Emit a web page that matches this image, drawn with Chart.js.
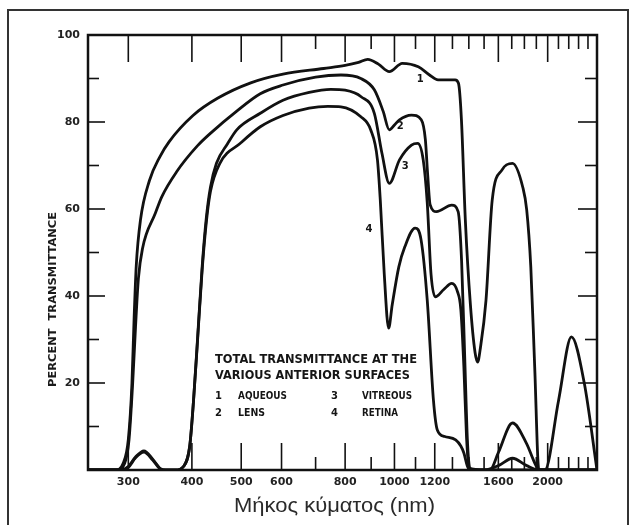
<!DOCTYPE html>
<html>
<head>
<meta charset="utf-8">
<script src="https://cdn.jsdelivr.net/npm/chart.js@4.4.1/dist/chart.umd.min.js"></script>
<style>
  html, body { margin: 0; padding: 0; background: #fff; }
</style>
</head>
<body>
<canvas id="chart" width="633" height="525"></canvas>
<script>
// values: wavelength (nm) and percent transmittance
const aqueousNm  = [250, 283, 293, 300, 305, 308, 311, 317, 330, 346, 361, 402, 450, 522, 604, 726, 800, 850, 886, 930, 977, 1036, 1114, 1172, 1218, 1316, 1336, 1354, 1378, 1410, 1440, 1457, 1475, 1513, 1556, 1627, 1706, 1787, 1819, 1853, 1886, 1922, 1975, 2101, 2227, 2360, 2500];
const aqueousPct = [0, 0, 1.5, 7, 20, 35, 47, 57.5, 66.5, 72, 75.5, 81.5, 85.5, 89, 91, 92.3, 93, 93.7, 94.4, 93.3, 91.6, 93.5, 92.7, 90.8, 89.7, 89.7, 88.9, 80.5, 57.5, 38, 27, 24.8, 28, 39, 62, 69, 70.5, 65, 59.8, 46.7, 23.7, 0, 0, 16, 30.6, 20, 0];

const lensNm  = [250, 285, 295, 301, 306, 310, 314, 320, 339, 349, 373, 410, 436, 490, 545, 604, 700, 785, 859, 913, 950, 977, 1000, 1023, 1080, 1129, 1150, 1162, 1175, 1209, 1296, 1334, 1355, 1375, 1392, 1410, 1540, 1600, 1706, 1819, 1880, 1922, 2500];
const lensPct = [0, 0, 1.5, 7, 20, 33, 44, 51, 59, 62.8, 68.5, 74.5, 77.5, 82.5, 86.5, 88.5, 90.3, 90.8, 90, 87.4, 82.5, 78.2, 79.3, 80.5, 81.6, 80.5, 76, 68, 61, 59.4, 60.9, 59.4, 48, 25, 6, 0, 0, 4, 10.8, 6, 2, 0, 0];

const vitreousNm  = [250, 290, 300, 310, 322, 335, 347, 355, 372, 385, 396, 403, 411, 419, 427, 435, 447, 470, 490, 545, 604, 680, 750, 800, 860, 913, 945, 977, 1023, 1080, 1111, 1139, 1160, 1180, 1203, 1250, 1296, 1330, 1350, 1369, 1385, 1400, 1500, 1600, 1706, 1819, 1922, 2500];
const vitreousPct = [0, 0, 0.8, 3, 4.4, 2.5, 0.3, 0, 0, 0.8, 5.4, 16, 31.5, 46.7, 58, 65, 70.5, 75, 78.2, 82, 85, 86.8, 87.5, 87.3, 85.8, 82, 72.8, 65.9, 71.3, 74.7, 75.1, 71.3, 61.4, 45, 39.8, 41.5, 42.9, 41, 37, 23.7, 8, 0.5, 0, 1, 2.7, 1, 0, 0];

const retinaNm  = [250, 290, 300, 310, 322, 335, 347, 355, 372, 385, 396, 403, 411, 419, 427, 435, 454, 498, 545, 604, 680, 740, 785, 859, 898, 926, 938, 955, 974, 990, 1020, 1048, 1098, 1128, 1160, 1193, 1214, 1255, 1319, 1350, 1369, 1390, 1406, 2500];
const retinaPct = [0, 0, 0.6, 2.8, 4.1, 2.3, 0.2, 0, 0, 0.8, 5.4, 16, 31, 46, 57, 64, 70.5, 75.1, 78.9, 81.5, 83.2, 83.6, 83.5, 81.2, 78.2, 71.3, 62, 45, 32.6, 38, 46.7, 51.3, 55.6, 52.9, 39, 16, 9.2, 7.7, 6.9, 5.5, 3.9, 1, 0, 0];

// axis ticks
const xTickValues  = [300, 400, 500, 600, 800, 1000, 1200, 1600, 2000];
const xMinorTicks  = [700, 900, 1100, 1300, 1400, 1500, 1700, 1800, 1900, 2100, 2200, 2300, 2400];
const yMajorTicks  = [20, 40, 60, 80];
const yMinorTicks  = [10, 30, 50, 70, 90];

// curve numbers, placed in data units
const curveLabels   = ['1', '2', '3', '4'];
const curveLabelNm  = [1124, 1026, 1050, 891];
const curveLabelPct = [89.9, 78.9, 69.7, 55.2];

const legendTitle  = ['TOTAL TRANSMITTANCE AT THE', 'VARIOUS ANTERIOR SURFACES'];
const surfaceNames = ['AQUEOUS', 'LENS', 'VITREOUS', 'RETINA'];

const xTitle = 'Μήκος κύματος (nm)';
const yTitle = 'PERCENT  TRANSMITTANCE';

function toPoints(xs, ys) {
    return xs.map((x, i) => ({ x: x, y: ys[i] }));
}

function curve(label, xs, ys) {
    return {
        label: label,
        data: toPoints(xs, ys),
        borderColor: '#111',
        borderWidth: 2.8,
        pointRadius: 0,
        fill: false,
        cubicInterpolationMode: 'monotone'
    };
}

// draw text squeezed/stretched to a given width
function fitText(ctx, text, x, y, width, font) {
    ctx.font = font;
    const w = ctx.measureText(text).width;
    ctx.save();
    ctx.translate(x, y);
    ctx.scale(width / w, 1);
    ctx.fillText(text, 0, 0);
    ctx.restore();
}

const paperPlugin = {
    id: 'paper',
    beforeDraw(chart) {
        const ctx = chart.ctx;
        ctx.save();
        ctx.fillStyle = '#fff';
        ctx.fillRect(0, 0, chart.width, chart.height);
        ctx.strokeStyle = '#333';
        ctx.lineWidth = 2;
        ctx.strokeRect(8, 10, 620, 530);
        ctx.restore();
    },
    afterDatasetsDraw(chart) {
        const { ctx, chartArea: a, scales: { x, y } } = chart;
        ctx.save();
        ctx.strokeStyle = '#111';
        ctx.lineWidth = 2.5;
        ctx.strokeRect(a.left, a.top, a.right - a.left, a.bottom - a.top);

        const line = (x1, y1, x2, y2) => {
            ctx.beginPath();
            ctx.moveTo(x1, y1);
            ctx.lineTo(x2, y2);
            ctx.stroke();
        };
        ctx.lineWidth = 1.6;
        xTickValues.forEach(v => {
            const px = x.getPixelForValue(v);
            line(px, a.bottom, px, a.bottom - 27);
            line(px, a.top, px, a.top + 27);
        });
        xMinorTicks.forEach(v => {
            const px = x.getPixelForValue(v);
            line(px, a.bottom, px, a.bottom - 13);
            line(px, a.top, px, a.top + 14);
        });
        yMajorTicks.forEach(v => {
            const py = y.getPixelForValue(v);
            line(a.left, py, a.left + 17, py);
            line(a.right, py, a.right - 19, py);
        });
        yMinorTicks.forEach(v => {
            const py = y.getPixelForValue(v);
            line(a.left, py, a.left + 11, py);
            line(a.right, py, a.right - 12, py);
        });

        ctx.fillStyle = '#151515';
        ctx.textBaseline = 'middle';

        // curve numbers
        ctx.font = "bold 10px 'DejaVu Sans'";
        ctx.textAlign = 'center';
        curveLabels.forEach((t, i) => {
            ctx.fillText(t, x.getPixelForValue(curveLabelNm[i]), y.getPixelForValue(curveLabelPct[i]));
        });

        // legend block
        ctx.textAlign = 'left';
        const lx = a.left + 127;
        fitText(ctx, legendTitle[0], lx, 360, 202, "bold 12px 'DejaVu Sans'");
        fitText(ctx, legendTitle[1], lx, 376, 195, "bold 12px 'DejaVu Sans'");
        const f = "bold 10px 'DejaVu Sans'";
        ctx.font = f;
        ctx.fillText('1', lx, 396);
        ctx.fillText('2', lx, 413);
        ctx.fillText('3', lx + 116, 396);
        ctx.fillText('4', lx + 116, 413);
        fitText(ctx, surfaceNames[0], lx + 23, 396, 49, f);
        fitText(ctx, surfaceNames[1], lx + 23, 413, 27, f);
        fitText(ctx, surfaceNames[2], lx + 147, 396, 50, f);
        fitText(ctx, surfaceNames[3], lx + 147, 413, 36, f);

        // axis titles
        ctx.fillStyle = '#2a2a2a';
        fitText(ctx, xTitle, 234, 506, 201, "20px 'Liberation Sans'");

        ctx.fillStyle = '#1a1a1a';
        ctx.save();
        ctx.translate(53, 387);
        ctx.rotate(-Math.PI / 2);
        fitText(ctx, yTitle, 0, 0, 175, "bold 11px 'DejaVu Sans'");
        ctx.restore();

        ctx.restore();
    }
};

const ctx = document.getElementById('chart');
new Chart(ctx, {
    type: 'line',
    data: {
        datasets: [
            curve('Aqueous', aqueousNm, aqueousPct),
            curve('Lens', lensNm, lensPct),
            curve('Vitreous', vitreousNm, vitreousPct),
            curve('Retina', retinaNm, retinaPct)
        ]
    },
    options: {
        responsive: false,
        animation: false,
        layout: {
            padding: { left: 8, top: 35, right: 36, bottom: 7 }
        },
        plugins: {
            legend: { display: false },
            tooltip: { enabled: false }
        },
        scales: {
            x: {
                type: 'logarithmic',
                min: 250,
                max: 2500,
                afterBuildTicks: scale => {
                    scale.ticks = xTickValues.map(v => ({ value: v }));
                },
                afterFit: scale => { scale.height = 48; },
                grid: { display: false, drawTicks: false },
                border: { display: false },
                ticks: {
                    autoSkip: false,
                    maxRotation: 0,
                    padding: 6,
                    color: '#222',
                    font: { family: 'DejaVu Sans', size: 11, weight: 'bold' },
                    callback: v => String(v)
                }
            },
            y: {
                min: 0,
                max: 100,
                afterFit: scale => { scale.width = 80; },
                grid: { display: false, drawTicks: false },
                border: { display: false },
                ticks: {
                    stepSize: 10,
                    padding: 8,
                    color: '#222',
                    font: { family: 'DejaVu Sans', size: 11, weight: 'bold' },
                    callback: v => (v > 0 && v % 20 === 0) ? String(v) : ''
                }
            }
        }
    },
    plugins: [paperPlugin]
});
</script>
</body>
</html>
